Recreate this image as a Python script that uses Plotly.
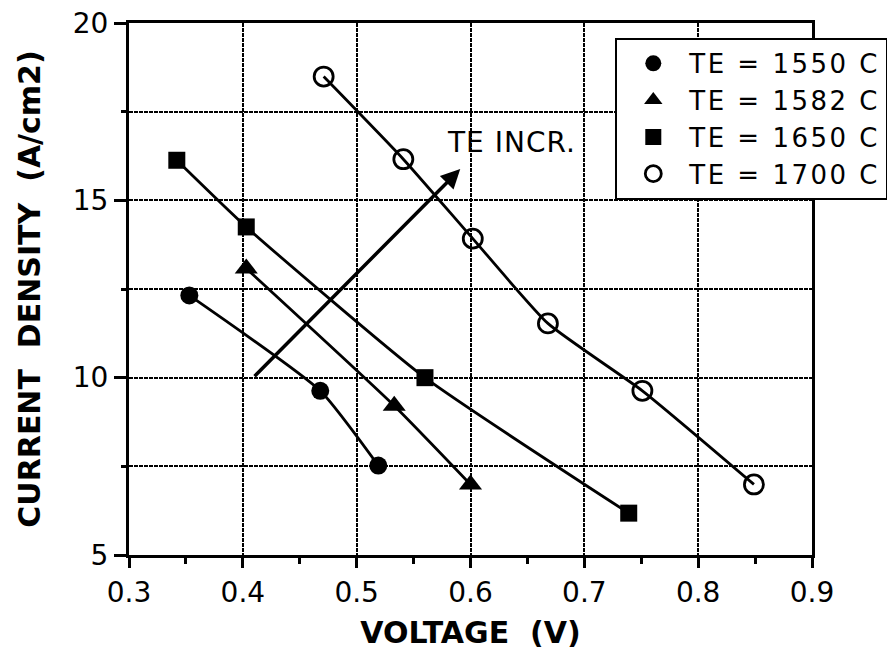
import plotly.graph_objects as go

# ---- data ----
v_1550 = [0.353, 0.468, 0.519]
j_1550 = [12.32, 9.63, 7.52]
v_1582 = [0.403, 0.533, 0.600]
j_1582 = [13.08, 9.21, 6.99]
v_1650 = [0.342, 0.403, 0.560, 0.739]
j_1650 = [16.13, 14.25, 10.00, 6.18]
v_1700 = [0.471, 0.541, 0.602, 0.668, 0.751, 0.849]
j_1700 = [18.49, 16.16, 13.92, 11.53, 9.63, 6.99]

series_names = ["TE = 1550 C", "TE = 1582 C", "TE = 1650 C", "TE = 1700 C"]
series_v = [v_1550, v_1582, v_1650, v_1700]
series_j = [j_1550, j_1582, j_1650, j_1700]
symbols = ["circle", "triangle-up", "square", "circle-open"]
sizes = [18, 20, 17, 19]

arrow_start = (0.409, 10.0)
arrow_end = (0.591, 15.88)
arrow_label = "TE INCR."
arrow_label_pos = (0.636, 16.62)

FONT = "DejaVu Sans"


def spaced(t, px):
    return '<span style="letter-spacing:%spx">%s</span>' % (px, t)


fig = go.Figure()
for v, j in zip(series_v, series_j):
    fig.add_trace(go.Scatter(x=v, y=j, mode="lines", showlegend=False,
                             line=dict(color="black", width=2.8, shape="spline", smoothing=0.5),
                             hoverinfo="skip"))
for name, v, j, sym, sz in zip(series_names, series_v, series_j, symbols, sizes):
    fig.add_trace(go.Scatter(x=v, y=j, mode="markers", name=spaced(name, 2.5),
                             marker=dict(symbol=sym, size=sz, color="black",
                                         line=dict(color="black", width=2.8 if "open" in sym else 0))))

fig.add_annotation(x=arrow_end[0], y=arrow_end[1], ax=arrow_start[0], ay=arrow_start[1],
                   xref="x", yref="y", axref="x", ayref="y", text="", showarrow=True,
                   arrowhead=2, arrowsize=1.1, arrowwidth=3.5, arrowcolor="black")
fig.add_annotation(x=arrow_label_pos[0], y=arrow_label_pos[1], xref="x", yref="y",
                   text=spaced(arrow_label, 1), showarrow=False,
                   font=dict(family=FONT, size=28, color="black"))

grid_common = dict(showline=True, linecolor="black", linewidth=3, mirror=True,
                   showgrid=True, gridcolor="black", gridwidth=2, griddash="4px,1px",
                   zeroline=False, ticks="outside", tickcolor="black", tickwidth=2.5,
                   automargin=False, ticklabeloverflow="allow",
                   tickfont=dict(family=FONT, size=28, color="black"))

fig.update_xaxes(range=[0.3, 0.9], dtick=0.1, tick0=0.3, ticklen=10, tickformat=".1f",
                 title=dict(text="<b>VOLTAGE  (V)</b>", font=dict(family=FONT, size=30, color="black"),
                            standoff=15),
                 minor=dict(dtick=0.05, ticks="outside", ticklen=6, tickwidth=2.5,
                            tickcolor="black", showgrid=False),
                 **grid_common)
fig.update_yaxes(range=[5, 20], dtick=5, tick0=5, ticklen=12,
                 title=dict(text="<b>CURRENT  DENSITY  (A/cm2)</b>",
                            font=dict(family=FONT, size=30, color="black"), standoff=24),
                 minor=dict(dtick=2.5, ticks="outside", ticklen=5, tickwidth=2.5,
                            tickcolor="black", showgrid=True, gridcolor="black",
                            gridwidth=2, griddash="4px,1px"),
                 **grid_common)

# page body has an 8px margin: size and margins compensate so the plot area lands
# at x 129..812, y 23..555 in the 895x654 window
fig.update_layout(
    width=887, height=646,
    margin=dict(l=121, r=83, t=15, b=99, autoexpand=False),
    paper_bgcolor="white", plot_bgcolor="white",
    font=dict(family=FONT, color="black"),
    legend=dict(x=0.712, y=0.972, xanchor="left", yanchor="top",
                bgcolor="white", bordercolor="black", borderwidth=2,
                font=dict(family=FONT, size=26, color="black"),
                itemwidth=62, tracegroupgap=0),
)

fig.write_html("out.html")
